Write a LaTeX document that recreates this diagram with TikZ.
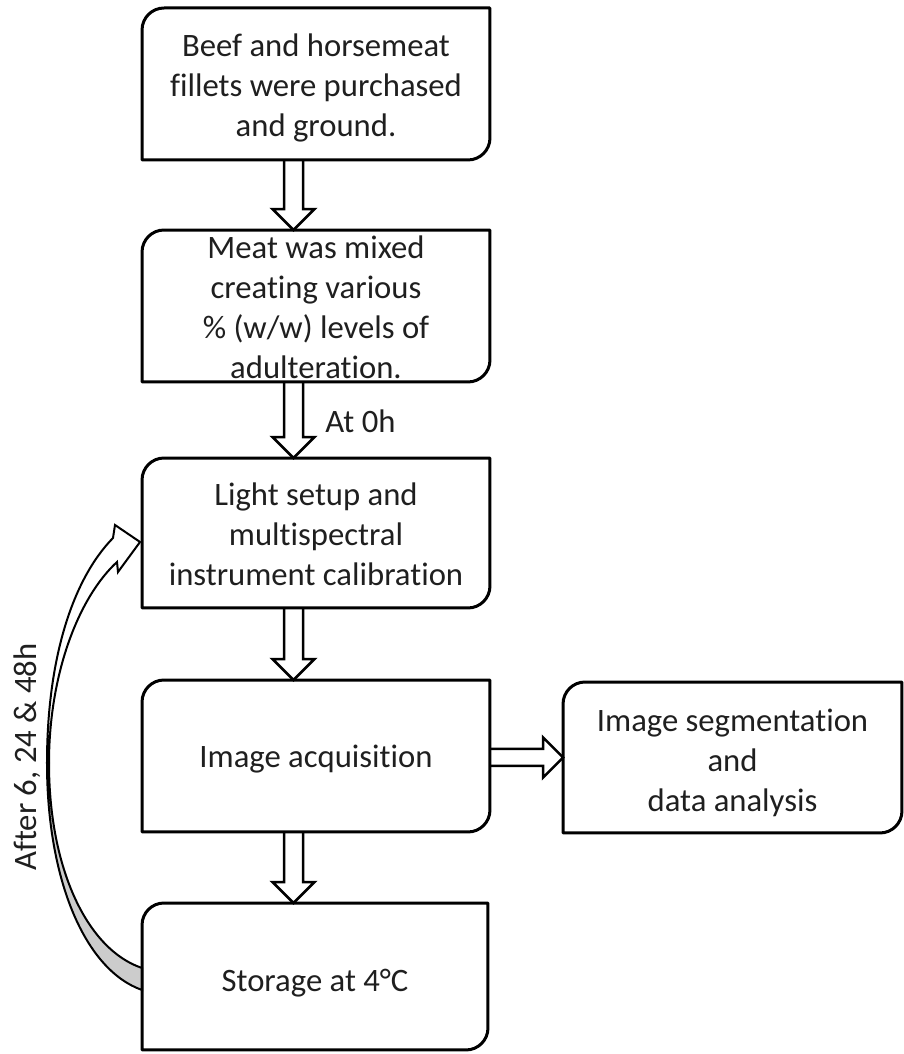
\documentclass[tikz,border=0pt]{standalone}
\usepackage{fontspec}
\setmainfont{Carlito}[Ligatures={NoCommon}]
\usetikzlibrary{calc}

% outline with rounded top-left and bottom-right corners
\newcommand\diagbox[1]{%
  \draw[boxline] let \p1=(#1.north west), \p2=(#1.south east) in
    (\x1,\y2) -- (\x1,\y1-0.44cm)
    arc[start angle=180,end angle=90,radius=0.44cm]
    -- (\x2,\y1) -- (\x2,\y2+0.44cm)
    arc[start angle=0,end angle=-90,radius=0.44cm] -- cycle;}

% hollow block arrow pointing down, on the axis (ax)
\newcommand\downblock[2]{%
  \draw[blockarrow] let \p1=(ax |- #1.south), \p2=(ax |- #2.north) in
    (\x1-0.19cm,\y1) -- (\x1-0.19cm,\y2+0.42cm) -- (\x1-0.42cm,\y2+0.42cm)
    -- (\x2,\y2) -- (\x1+0.42cm,\y2+0.42cm) -- (\x1+0.19cm,\y2+0.42cm)
    -- (\x1+0.19cm,\y1);}

\begin{document}
\begin{tikzpicture}[x=0.02cm,y=0.02cm,
  boxline/.style={line width=0.06cm, draw=black, line join=round},
  stepnode/.style={draw=none, outer sep=0pt, inner sep=0pt},
  txt/.style={inner sep=0pt, align=center,
    font=\fontsize{18.6pt}{22.8pt}\selectfont, text=black!88},
  blockarrow/.style={line width=0.05cm, fill=white, draw=black, line join=miter},
  curvearrow/.style={line width=0.04cm, draw=black, line join=miter},
  ]
\useasboundingbox (0,0) rectangle (903,1054);

% process steps (frames)
\node[stepnode, minimum width=6.96cm, minimum height=3.04cm] (b1) at (316,970) {};
\node[stepnode, minimum width=6.96cm, minimum height=3.04cm] (b2) at (316,748) {};
\node[stepnode, minimum width=6.96cm, minimum height=3.00cm] (b3) at (316,521) {};
\node[stepnode, minimum width=6.96cm, minimum height=3.04cm] (b4) at (316,298) {};
\node[stepnode, minimum width=6.78cm, minimum height=3.02cm] (b5) at (732.5,296.5) {};
\node[stepnode, minimum width=6.92cm, minimum height=2.94cm] (b6) at (315,77.5) {};

% step texts
\node[txt] (b1t) at ($(b1)+(0,-4)$) {Beef and horsemeat\\fillets were purchased\\and ground.};
\node[txt] (b2t) at ($(b2)+(0,-1)$) {Meat was mixed\\creating various\\\% (w/w) levels of\\adulteration.};
\node[txt] (b3t) at ($(b3)+(0,-1)$) {Light setup and\\multispectral\\instrument calibration};
\node[txt] (b4t) at ($(b4)+(0,-3)$) {Image acquisition};
\node[txt] (b5t) at ($(b5)+(0,-5)$) {Image segmentation\\and\\data analysis};
\node[txt] (b6t) at ($(b6)+(0,-7)$) {Storage at 4°C};

% labels
\node[txt, anchor=base west] (t0) at (325,621) {At 0h};
\node[txt, rotate=90] (t1) at (27,297) {After 6, 24 \& 48h};

% loop arrow from storage back to calibration
\coordinate (cbot) at ($(b6.west)+(0,-13.5)$);
\coordinate (ctop) at ($(b6.west)+(0,8.5)$);
\coordinate (ctip) at ($(b3.west)+(-2,-9)$);
\draw[curvearrow, fill=gray!40] (47,291) .. controls (47,174) and (85,84) .. (cbot)
  -- (ctop) .. controls (88,104) and (49,184) .. (49,291) -- cycle;
\draw[curvearrow, fill=white] (47,291) .. controls (47,394) and (72,474) .. (113,516)
  -- (115,529) -- (ctip) -- (118,482) -- (117,492)
  .. controls (78,456) and (49,379) .. (49,291) -- cycle;

% straight block arrows
\coordinate (ax) at (293.5,0);
\downblock{b1}{b2}
\downblock{b2}{b3}
\downblock{b3}{b4}
\downblock{b4}{b6}
\draw[blockarrow] let \p1=(b4.east), \p2=(b5.west) in
  (\x1,\y2+0.17cm) -- (\x2-0.4cm,\y2+0.17cm) -- (\x2-0.4cm,\y2+0.4cm)
  -- (\x2,\y2) -- (\x2-0.4cm,\y2-0.4cm) -- (\x2-0.4cm,\y2-0.17cm) -- (\x1,\y2-0.17cm);

% box outlines on top
\diagbox{b1}
\diagbox{b2}
\diagbox{b3}
\diagbox{b4}
\diagbox{b5}
\diagbox{b6}
\end{tikzpicture}
\end{document}
